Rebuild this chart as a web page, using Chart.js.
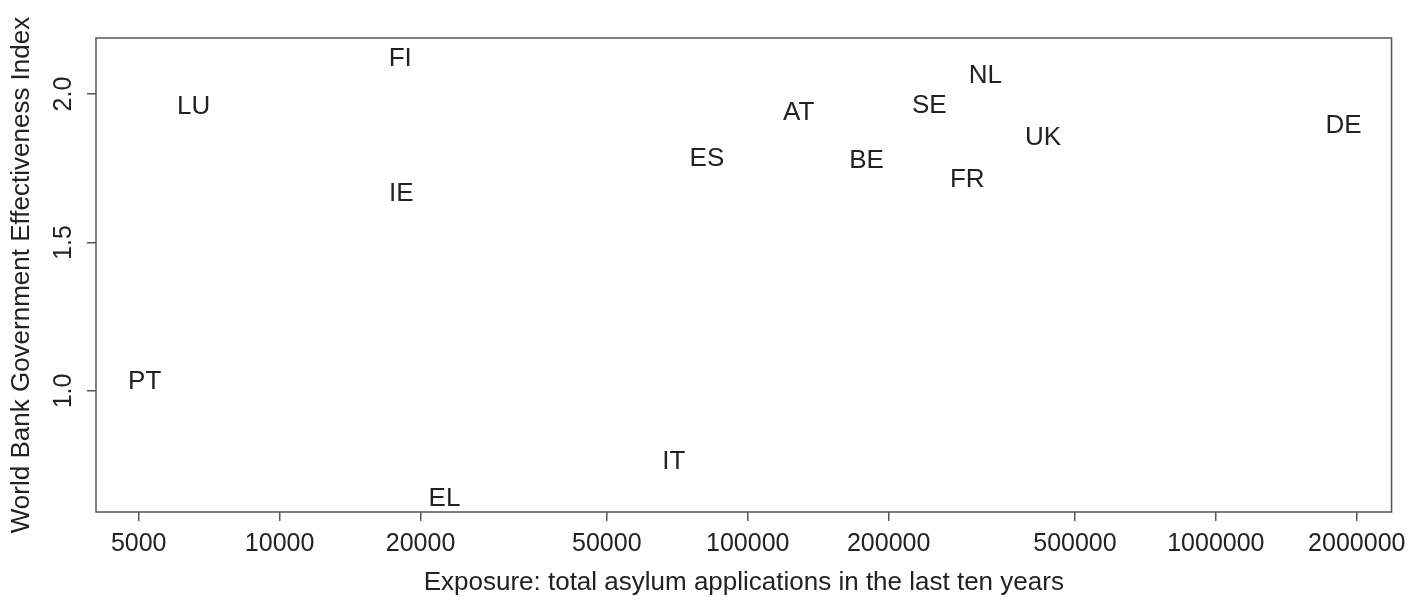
<!DOCTYPE html>
<html>
<head>
<meta charset="utf-8">
<script src="https://cdn.jsdelivr.net/npm/chart.js@4/dist/chart.umd.min.js"></script>
<style>
	html, body { margin: 0; padding: 0; background: #fff; }
	canvas { display: block; }
</style>
</head>
<body>
<canvas id="exposureChart" width="1414" height="600"></canvas>
<script>
// Data: negara, total aplikasi suaka 10 tahun, indeks efektivitas pemerintah
const countries = ["LU", "FI", "IE", "PT", "EL", "IT", "ES", "AT", "BE", "SE", "NL", "FR", "UK", "DE"];
const exposure = [6550, 18100, 18200, 5150, 22500, 69500, 81800, 128500, 179400, 244300, 321800, 294400, 427600, 1875000];
const effectiveness = [1.956, 2.118, 1.663, 1.029, 0.638, 0.760, 1.781, 1.936, 1.774, 1.960, 2.061, 1.710, 1.852, 1.892];

const xTicks = [5000, 10000, 20000, 50000, 100000, 200000, 500000, 1000000, 2000000];
const yTicks = [1.0, 1.5, 2.0];

const textColor = "#222";
const axisColor = "#555";
const fontFamily = "'Liberation Sans', Arial, sans-serif";

// Plugin: tulis kode negara di posisi titik
const labelPlugin = {
	id: "countryLabels",
	afterDatasetsDraw(chart) {
		const ctx = chart.ctx;
		const meta = chart.getDatasetMeta(0);
		ctx.save();
		ctx.font = "26px " + fontFamily;
		ctx.fillStyle = textColor;
		ctx.textAlign = "center";
		ctx.textBaseline = "middle";
		meta.data.forEach((pt, i) => {
			ctx.fillText(countries[i], pt.x, pt.y);
		});
		ctx.restore();
	},
};

// Plugin: kotak di sekeliling area plot
const boxPlugin = {
	id: "plotBox",
	afterDraw(chart) {
		const a = chart.chartArea;
		const ctx = chart.ctx;
		ctx.save();
		ctx.strokeStyle = axisColor;
		ctx.lineWidth = 1.5;
		ctx.strokeRect(a.left, a.top, a.right - a.left, a.bottom - a.top);
		ctx.restore();
	},
};

document.addEventListener("DOMContentLoaded", function () {
	const el = document.getElementById("exposureChart");
	new Chart(el, {
		type: "scatter",
		data: {
			datasets: [
				{
					data: exposure.map((x, i) => ({ x: x, y: effectiveness[i] })),
					pointRadius: 0,
					pointHoverRadius: 0,
				},
			],
		},
		options: {
			responsive: false,
			animation: false,
			devicePixelRatio: 1,
			layout: { padding: { top: 38, right: 21, bottom: 0, left: 0 } },
			plugins: {
				legend: { display: false },
				tooltip: { enabled: false },
			},
			scales: {
				x: {
					type: "logarithmic",
					min: 4053,
					max: 2373000,
					afterBuildTicks: (scale) => {
						scale.ticks = xTicks.map((v) => ({ value: v }));
					},
					afterFit: (scale) => {
						scale.height = 88;
					},
					ticks: {
						autoSkip: false,
						maxRotation: 0,
						minRotation: 0,
						padding: 8,
						color: textColor,
						font: { family: fontFamily, size: 25 },
						callback: (v) => String(v),
					},
					grid: {
						drawOnChartArea: false,
						drawTicks: true,
						tickLength: 9,
						color: axisColor,
						lineWidth: 1.5,
					},
					border: { display: false },
					title: {
						display: true,
						text: "Exposure: total asylum applications in the last ten years",
						color: textColor,
						font: { family: fontFamily, size: 26 },
						padding: { top: 0, bottom: 2 },
					},
				},
				y: {
					type: "linear",
					min: 0.592,
					max: 2.189,
					afterBuildTicks: (scale) => {
						scale.ticks = yTicks.map((v) => ({ value: v }));
					},
					afterFit: (scale) => {
						scale.width = 96;
					},
					ticks: {
						autoSkip: false,
						minRotation: 90,
						maxRotation: 90,
						crossAlign: "center",
						padding: 6,
						color: textColor,
						font: { family: fontFamily, size: 25 },
						callback: (v) => v.toFixed(1),
					},
					grid: {
						drawOnChartArea: false,
						drawTicks: true,
						tickLength: 9,
						color: axisColor,
						lineWidth: 1.5,
					},
					border: { display: false },
					title: {
						display: true,
						text: "World Bank Government Effectiveness Index",
						color: textColor,
						font: { family: fontFamily, size: 26 },
						padding: { top: 6, bottom: 0 },
					},
				},
			},
		},
		plugins: [labelPlugin, boxPlugin],
	});
});
</script>
</body>
</html>
